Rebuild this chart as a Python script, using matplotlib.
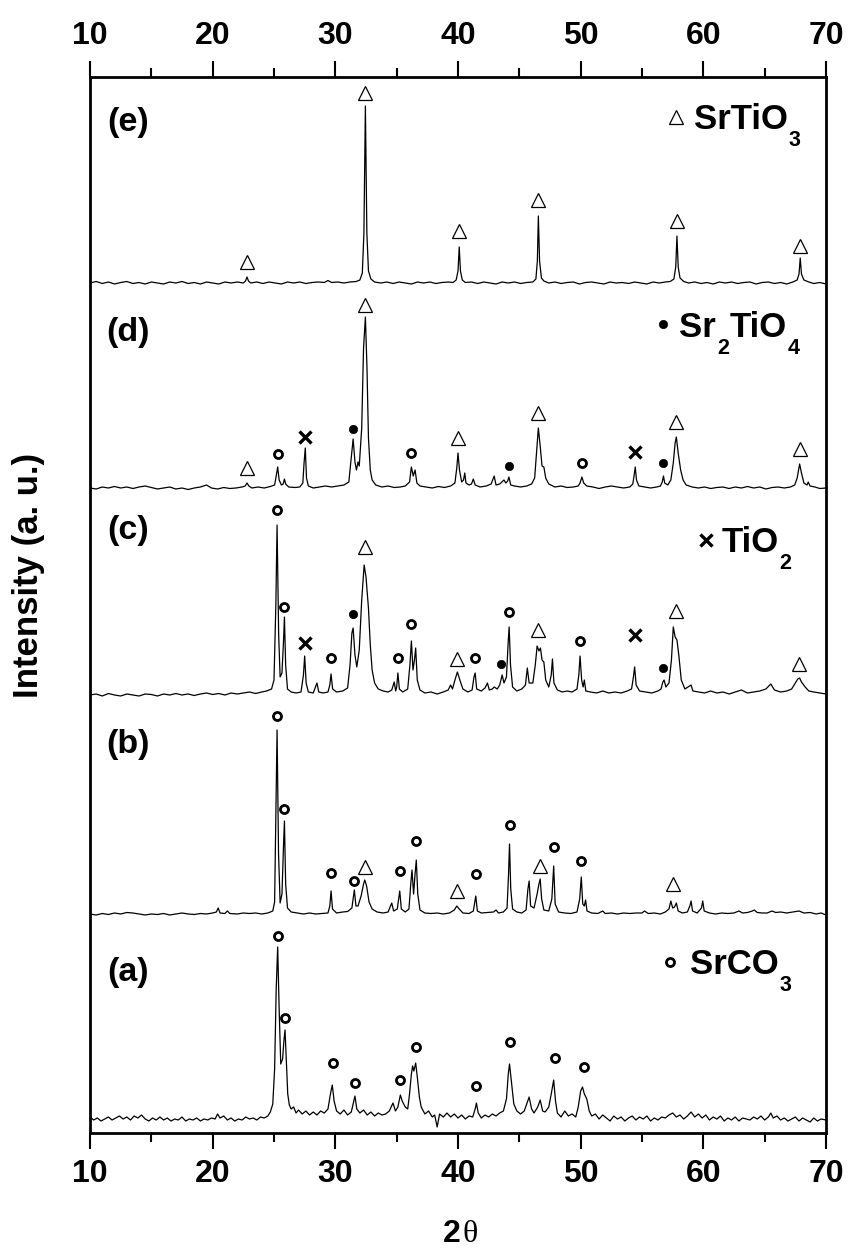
import matplotlib
matplotlib.use("Agg")
import matplotlib.pyplot as plt
import numpy as np

# 2theta range
x_min, x_max = 10, 70

# XRD traces: (2theta, intensity above the trace baseline)
trace_a = [(10.0,2),(10.3,-1),(10.6,1),(10.9,-2),(11.2,0),(11.5,2),(11.8,-1),(12.1,1),(12.4,3),(12.7,0),
           (13.0,2),(13.3,-1),(13.6,3),(13.9,1),(14.2,4),(14.5,0),(14.8,-2),(15.1,1),(15.4,-1),(15.7,2),
           (16.0,-1),(16.3,1),(16.6,-2),(16.9,0),(17.2,-1),(17.5,2),(17.8,-2),(18.1,0),(18.4,-1),(18.7,1),
           (19.0,-2),(19.3,0),(19.6,-1),(19.9,1),(20.2,0),(20.4,5),(20.6,1),(20.9,3),(21.2,-1),(21.5,1),
           (21.8,-2),(22.1,0),(22.4,-1),(22.7,2),(23.0,0),(23.3,1),(23.6,-1),(23.9,2),(24.2,1),(24.5,3),
           (24.7,7),(24.9,15),(25.05,50),(25.18,130),(25.3,172),(25.42,110),(25.55,55),(25.7,60),(25.82,80),
           (25.9,89),(26.0,60),(26.12,25),(26.25,14),(26.4,10),(26.6,12),(26.8,6),(27.0,9),(27.3,5),(27.6,8),
           (27.9,4),(28.2,7),(28.5,4),(28.8,8),(29.1,6),(29.4,10),(29.6,25),(29.75,34),(29.9,18),(30.1,8),
           (30.4,5),(30.7,9),(31.0,4),(31.3,7),(31.5,18),(31.6,23),(31.75,10),(32.0,6),(32.3,9),(32.6,4),
           (32.9,7),(33.2,3),(33.5,6),(33.8,4),(34.1,5),(34.4,8),(34.7,16),(34.9,8),(35.1,12),(35.3,24),
           (35.45,18),(35.7,12),(35.9,10),(36.05,25),(36.2,45),(36.3,53),(36.4,48),(36.55,56),(36.7,40),
           (36.85,22),(37.0,12),(37.3,5),(37.6,8),(37.9,2),(38.1,4),(38.3,-8),(38.5,5),(38.8,2),(39.1,6),
           (39.4,2),(39.7,5),(40.0,1),(40.3,4),(40.6,0),(40.9,3),(41.2,2),(41.4,10),(41.5,16),(41.65,6),
           (41.9,1),(42.2,4),(42.5,2),(42.8,5),(43.1,3),(43.4,6),(43.7,8),(43.95,20),(44.1,45),(44.2,55),
           (44.35,38),(44.55,15),(44.8,8),(45.1,5),(45.4,8),(45.6,15),(45.8,22),(46.0,10),(46.2,6),(46.5,12),
           (46.7,19),(46.9,8),(47.1,7),(47.4,12),(47.6,25),(47.8,39),(47.95,18),(48.1,6),(48.4,2),(48.7,8),
           (49.0,3),(49.3,5),(49.6,2),(49.8,12),(50.0,28),(50.15,32),(50.3,25),(50.5,20),(50.7,8),(50.9,3),
           (51.2,5),(51.5,0),(51.8,4),(52.1,1),(52.4,-2),(52.7,3),(53.0,0),(53.3,2),(53.6,-2),(53.9,1),
           (54.2,3),(54.5,-1),(54.8,2),(55.1,0),(55.4,3),(55.7,-2),(56.0,1),(56.3,-1),(56.6,2),(56.9,1),
           (57.2,4),(57.5,6),(57.8,2),(58.1,4),(58.4,0),(58.7,3),(59.0,7),(59.3,2),(59.6,5),(59.9,1),
           (60.2,4),(60.5,-1),(60.8,2),(61.1,0),(61.4,3),(61.7,-2),(62.0,1),(62.3,-1),(62.6,2),(62.9,-2),
           (63.2,1),(63.5,0),(63.8,-1),(64.1,2),(64.4,0),(64.7,3),(65.0,-1),(65.3,2),(65.5,6),(65.7,1),
           (66.0,3),(66.3,-1),(66.6,1),(66.9,-2),(67.2,0),(67.5,2),(67.8,-2),(68.1,1),(68.4,-1),(68.7,-3),
           (69.0,1),(69.3,-2),(69.6,0),(70.0,-1)]

trace_b = [(10.0,0),(10.5,-1),(11.0,0.5),(11.5,-0.5),(12.0,1),(12.5,0),(13.0,1.5),(13.5,1),(14.0,0),(14.5,-1),
           (15.0,0),(15.5,-0.5),(16.0,0.5),(16.5,-1),(17.0,0),(17.5,1),(18.0,0),(18.5,-0.5),(19.0,0.5),(19.5,0),
           (20.0,1),(20.3,2),(20.45,6),(20.6,1),(21.0,0.5),(21.2,3),(21.4,0.5),(22.0,0),(22.5,1),(23.0,0.5),
           (23.5,1),(24.0,0),(24.5,1),(24.9,3),(25.05,12),(25.15,100),(25.25,184),(25.37,60),(25.5,11),
           (25.65,20),(25.78,70),(25.85,93),(25.95,30),(26.1,6),(26.4,2),(26.9,1),(27.4,0),(27.9,1),(28.4,0),
           (28.9,0.5),(29.4,1),(29.55,8),(29.65,23),(29.77,5),(30.1,1),(30.6,2),(31.0,2.5),(31.35,6),(31.55,24),
           (31.68,8),(31.85,8),(32.1,18),(32.3,30),(32.4,34),(32.55,28),(32.75,12),(33.0,5),(33.4,2),(33.9,1),
           (34.3,2),(34.6,11),(34.75,3),(35.05,5),(35.25,23),(35.38,5),(35.7,2),(36.0,5),(36.15,30),(36.25,44),
           (36.38,20),(36.5,40),(36.6,54),(36.72,20),(36.9,4),(37.3,1),(37.8,0.5),(38.3,1),(38.8,0),(39.3,1),
           (39.7,4),(39.9,8),(40.1,5),(40.4,1),(40.9,0.5),(41.25,3),(41.45,18),(41.58,3),(41.9,1),(42.4,1.5),
           (42.9,2),(43.1,4),(43.3,1),(43.7,2),(44.0,6),(44.12,40),(44.2,70),(44.3,25),(44.45,5),(44.8,2),
           (45.2,1),(45.55,4),(45.7,25),(45.8,33),(45.92,8),(46.2,6),(46.45,20),(46.6,30),(46.7,35),(46.82,15),
           (47.0,4),(47.4,3),(47.65,15),(47.8,48),(47.92,10),(48.2,2),(48.7,1),(49.2,0.5),(49.7,2),(49.92,15),
           (50.05,37),(50.17,10),(50.3,8),(50.4,14),(50.52,3),(50.9,1),(51.4,0.5),(51.8,3),(52.0,0.5),(52.5,1),
           (53.0,0),(53.5,1),(54.0,0.5),(54.5,1),(55.0,1),(55.2,3),(55.5,0.5),(56.0,1),(56.5,0),(56.9,2),
           (57.2,5),(57.35,13),(57.5,6),(57.65,7),(57.8,11),(57.95,3),(58.3,1),(58.7,2),(58.9,8),(59.0,13),
           (59.12,3),(59.5,1),(59.85,6),(59.95,13),(60.07,3),(60.5,1),(61.0,0),(61.5,1),(62.0,0.5),(62.5,1),
           (62.9,3),(63.2,1),(63.6,1.5),(64.0,3),(64.15,4),(64.4,1.5),(64.8,1),(65.2,1),(65.6,3),(65.9,1.5),
           (66.3,2),(66.8,1),(67.3,2),(67.8,3),(68.2,1),(68.7,1.5),(69.2,0),(69.6,1),(70.0,-1)]

trace_c = [(10.0,0),(10.5,1),(11.0,-1),(11.5,1.5),(12.0,0),(12.5,-1),(13.0,1),(13.5,0),(14.0,-1),(14.5,1),
           (15.0,0.5),(15.5,-1),(16.0,1),(16.5,0),(17.0,1.5),(17.5,0),(18.0,1),(18.5,-0.5),(19.0,1),(19.5,2),
           (20.0,0.5),(20.5,1.5),(21.0,0),(21.5,2),(22.0,1),(22.5,2),(23.0,3),(23.5,1.5),(24.0,3),(24.4,4),
           (24.8,6),(25.0,15),(25.15,90),(25.25,170),(25.38,60),(25.5,18),(25.65,22),(25.78,55),(25.85,78),
           (25.95,30),(26.1,6),(26.4,3),(26.8,2),(27.2,3),(27.4,20),(27.5,39),(27.62,12),(27.8,3),(28.2,2),
           (28.5,12),(28.65,3),(29.0,2),(29.4,3),(29.55,10),(29.65,21),(29.78,6),(30.1,3),(30.6,4),(31.0,7),
           (31.2,30),(31.35,62),(31.45,67),(31.6,40),(31.75,28),(31.95,45),(32.15,95),(32.35,130),(32.5,118),
           (32.7,87),(32.85,50),(33.0,25),(33.2,12),(33.5,6),(33.9,4),(34.3,3),(34.6,5),(34.8,13),(34.92,4),
           (35.0,8),(35.1,22),(35.22,6),(35.5,3),(35.9,6),(36.08,30),(36.2,54),(36.33,25),(36.45,35),
           (36.55,47),(36.68,15),(36.9,5),(37.3,2),(37.8,3),(38.3,1),(38.8,3),(39.2,5),(39.4,10),(39.55,6),
           (39.75,15),(39.95,23),(40.15,15),(40.4,6),(40.8,3),(41.15,5),(41.3,18),(41.4,22),(41.52,6),
           (41.9,4),(42.2,7),(42.4,12),(42.55,5),(42.8,6),(42.95,8),(43.2,6),(43.4,10),(43.6,20),(43.75,12),
           (43.95,18),(44.1,55),(44.17,68),(44.28,30),(44.45,8),(44.8,4),(45.2,6),(45.5,10),(45.65,27),
           (45.8,12),(46.1,12),(46.3,30),(46.45,49),(46.6,44),(46.72,47),(46.85,35),(47.0,33),(47.15,15),
           (47.4,8),(47.6,20),(47.7,36),(47.82,12),(48.1,5),(48.5,3),(48.9,4),(49.3,3),(49.7,6),(49.85,20),
           (49.95,39),(50.08,15),(50.2,8),(50.3,15),(50.42,4),(50.8,3),(51.3,2),(51.8,4),(52.3,2),(52.8,3),
           (53.3,2),(53.8,4),(54.15,6),(54.3,18),(54.4,28),(54.52,10),(54.8,4),(55.3,3),(55.8,2),(56.3,4),
           (56.55,6),(56.7,13),(56.8,15),(56.95,8),(57.2,12),(57.4,35),(57.55,68),(57.7,58),(57.85,55),
           (58.0,40),(58.2,15),(58.5,6),(59.0,10),(59.15,4),(59.6,3),(60.1,2),(60.6,4),(61.1,2),(61.6,3),
           (62.1,1),(62.6,3),(63.1,5),(63.6,2),(64.1,3),(64.6,4),(65.1,6),(65.5,11),(65.8,5),(66.3,3),
           (66.8,4),(67.2,6),(67.5,12),(67.7,16),(67.85,17),(68.0,13),(68.3,8),(68.6,4),(69.0,3),(69.5,2),
           (70.0,1)]

trace_d = [(10.0,0),(10.5,-1),(11.0,1),(11.5,0),(12.0,1.5),(12.5,0),(13.0,1),(13.5,-0.5),(14.0,1),(14.5,2),
           (15.0,0.5),(15.5,-1),(16.0,0),(16.5,1),(17.0,-1),(17.5,0),(18.0,-1.5),(18.5,0),(19.0,1),(19.5,3),
           (19.9,0),(20.4,-1),(20.9,0.5),(21.4,-0.5),(21.9,0),(22.4,1),(22.65,2),(22.8,5),(22.95,2),(23.2,0),
           (23.7,1),(24.2,0),(24.7,1.5),(25.05,3),(25.18,12),(25.3,21),(25.42,8),(25.6,3),(25.75,4),(25.85,9),
           (25.95,4),(26.2,1),(26.7,0.5),(27.1,1),(27.35,5),(27.45,25),(27.55,40),(27.65,10),(27.8,2),(28.2,0),
           (28.7,1),(29.2,2),(29.7,1),(30.2,2),(30.7,3),(31.1,6),(31.3,30),(31.45,49),(31.6,26),(31.72,18),
           (31.85,26),(31.95,22),(32.15,60),(32.3,140),(32.45,171),(32.58,120),(32.7,50),(32.85,18),(33.0,8),
           (33.3,3),(33.8,1),(34.3,2),(34.8,0.5),(35.3,1),(35.7,2),(36.05,6),(36.2,21),(36.35,12),(36.5,18),
           (36.65,5),(36.9,2),(37.4,1),(37.9,0),(38.4,1.5),(38.9,0.5),(39.4,2),(39.75,5),(39.9,20),(40.0,35),
           (40.12,18),(40.3,6),(40.45,8),(40.55,15),(40.65,5),(40.9,3),(41.1,4),(41.25,9),(41.4,3),(41.8,1),
           (42.3,2),(42.7,4),(42.95,12),(43.1,3),(43.4,4),(43.75,8),(43.9,5),(44.05,7),(44.15,11),(44.3,3),
           (44.6,2),(45.1,1),(45.6,2),(46.0,4),(46.25,10),(46.4,35),(46.55,60),(46.7,42),(46.85,22),(47.0,21),
           (47.15,10),(47.4,4),(47.9,1),(48.4,2),(48.9,0.5),(49.4,1),(49.8,2),(49.95,5),(50.1,11),(50.25,5),
           (50.5,2),(51.0,1),(51.5,-0.5),(52.0,1),(52.5,2),(53.0,1),(53.5,0),(54.0,1),(54.25,4),(54.35,12),
           (54.45,21),(54.55,8),(54.75,2),(55.2,1),(55.7,0),(56.2,1),(56.5,2),(56.65,6),(56.75,12),(56.85,5),
           (57.1,3),(57.35,8),(57.55,25),(57.7,45),(57.8,51),(57.95,35),(58.15,18),(58.35,8),(58.6,3),(59.1,1),
           (59.6,0),(60.1,1),(60.6,-0.5),(61.1,0.5),(61.6,1),(62.1,-0.5),(62.6,1),(63.1,0),(63.6,1.5),(64.1,0),
           (64.6,1),(65.1,-1),(65.6,0.5),(66.1,1),(66.6,0),(67.1,1),(67.45,3),(67.65,10),(67.85,24),(68.0,15),
           (68.2,5),(68.45,3),(68.55,6),(68.7,2),(69.1,1),(69.5,-0.5),(70.0,0)]

trace_e = [(10.0,0),(10.5,1.5),(11.0,-0.5),(11.5,1),(12.0,-1),(12.5,0.5),(13.0,1.5),(13.5,-0.5),(14.0,0.5),
           (14.5,-1),(15.0,1),(15.5,0),(16.0,-1),(16.5,1),(17.0,0),(17.5,1.5),(18.0,-0.5),(18.5,0.5),(19.0,-1),
           (19.5,1),(20.0,0),(20.5,-1),(21.0,1),(21.5,0),(22.0,1),(22.5,0),(22.68,2),(22.8,6),(22.92,2),
           (23.1,0),(23.6,1),(24.1,-0.5),(24.6,1),(25.1,0),(25.6,-1),(26.1,1),(26.6,0),(27.1,1),(27.6,-0.5),
           (28.1,0.5),(28.6,1),(29.1,0.5),(29.4,2.5),(29.7,0.5),(30.2,1),(30.7,0),(31.2,1),(31.7,1.5),(32.0,3),
           (32.2,10),(32.33,50),(32.45,177),(32.57,50),(32.7,12),(32.9,4),(33.2,1),(33.7,0),(34.2,1),
           (34.7,-0.5),(35.2,1),(35.7,0),(36.2,-1),(36.7,1),(37.2,0),(37.7,1),(38.2,-0.5),(38.7,0.5),(39.2,1),
           (39.6,0.5),(39.85,3),(40.0,12),(40.1,36),(40.2,12),(40.35,3),(40.6,0.5),(41.1,1),(41.6,-0.5),
           (42.1,1),(42.6,0),(43.1,-1),(43.6,1),(44.1,0),(44.6,1),(45.1,-0.5),(45.6,0.5),(46.1,1),(46.35,4),
           (46.47,22),(46.55,67),(46.65,22),(46.8,5),(47.0,2),(47.4,0),(47.9,1),(48.4,-0.5),(48.9,0.5),
           (49.4,1),(49.9,-1),(50.4,0.5),(50.9,1),(51.4,0),(51.9,-1),(52.4,1),(52.9,0),(53.4,0.5),(53.9,-0.5),
           (54.4,1),(54.9,0),(55.4,-1),(55.9,1),(56.4,0),(56.9,1),(57.3,1.5),(57.6,4),(57.75,16),(57.85,47),
           (57.95,16),(58.1,5),(58.4,1.5),(58.8,0),(59.3,1),(59.8,-0.5),(60.3,0.5),(60.8,-1),(61.3,1),
           (61.8,0),(62.3,1),(62.8,-0.5),(63.3,0.5),(63.8,1),(64.3,-1),(64.8,0.5),(65.3,1),(65.8,-0.5),
           (66.3,0.5),(66.8,-1),(67.3,1),(67.65,3),(67.8,9),(67.9,25),(68.0,9),(68.2,3),(68.6,1),(69.0,-0.5),
           (69.5,0.5),(70.0,-1)]

# phase marks per trace: (phase, 2theta, height above baseline)
# T = SrTiO3, S = Sr2TiO4, X = TiO2, C = SrCO3
marks_a = [('C',25.3,183),('C',25.9,101),('C',29.8,56),('C',31.6,36),('C',35.3,39),('C',36.55,72),
           ('C',41.5,33),('C',44.2,77),('C',47.9,61),('C',50.3,52)]
marks_b = [('C',25.25,198),('C',25.85,105),('C',29.65,41),('C',31.55,33),('T',32.4,47),('C',35.25,43),
           ('C',36.6,73),('T',39.9,23),('C',41.45,40),('C',44.2,89),('T',46.7,48),('C',47.85,67),
           ('C',50.05,53),('T',57.5,30)]
marks_c = [('C',25.25,185),('C',25.85,88),('X',27.5,52),('C',29.65,37),('S',31.4,81),('T',32.4,148),
           ('C',35.1,37),('C',36.2,71),('T',39.95,36),('C',41.35,37),('S',43.5,31),('C',44.15,83),
           ('T',46.5,65),('C',49.95,54),('X',54.4,60),('S',56.75,27),('T',57.75,84),('T',67.8,31)]
marks_d = [('T',22.8,20),('C',25.3,34),('X',27.5,51),('S',31.45,59),('T',32.45,183),('C',36.2,35),
           ('T',40.0,50),('S',44.15,22),('T',46.55,75),('C',50.1,25),('X',54.45,36),('S',56.75,25),
           ('T',57.8,66),('T',67.9,39)]
marks_e = [('T',22.8,21),('T',32.45,190),('T',40.1,52),('T',46.55,83),('T',57.85,62),('T',67.9,37)]

traces = [trace_a, trace_b, trace_c, trace_d, trace_e]
marks = [marks_a, marks_b, marks_c, marks_d, marks_e]
panel_names = ['(a)', '(b)', '(c)', '(d)', '(e)']
phase_keys = ['C', 'X', 'S', 'T']
# formula pieces: (text, is_subscript)
phase_formulas = {'C': [('SrCO', False), ('3', True)],
                  'X': [('TiO', False), ('2', True)],
                  'S': [('Sr', False), ('2', True), ('TiO', False), ('4', True)],
                  'T': [('SrTiO', False), ('3', True)]}

# layout (not data)
offsets = [14, 219, 438, 645, 850]
panel_label_y = [160, 388, 603, 801, 1011]
legend_pos = {'T': (57.75, 1016, 59.2, 1004),
              'S': (56.7, 809, 58.05, 796),
              'X': (60.2, 593, 61.5, 581),
              'C': (57.3, 171, 58.9, 159)}
marker_style = {
    'T': dict(marker='^', ms=10, mfc='white', mec='black', mew=0.9),
    'S': dict(marker='o', ms=6, mfc='black', mec='black', mew=0.5),
    'X': dict(marker='x', ms=9, mec='black', mew=2.4),
    'C': dict(marker='o', ms=5.8, mfc='white', mec='black', mew=2.0),
}

plt.rcParams['font.family'] = ['Liberation Sans', 'DejaVu Sans']
plt.rcParams['font.weight'] = 'bold'

fig = plt.figure(figsize=(8.51, 12.49), dpi=100)
ax = fig.add_axes([90/851, 1-1133/1249, 736/851, 1056/1249])

for tr, mk, off, name, ly in zip(traces, marks, offsets, panel_names, panel_label_y):
    x, y = zip(*tr)
    ax.plot(x, np.array(y) + off, color='black', lw=0.9)
    for key, mx, my in mk:
        ax.plot(mx, my + off, ls='none', **marker_style[key])
    ax.text(13.1, ly, name, ha='center', va='center', fontsize=24.5, fontweight='bold')


def draw_formula(ax, x, y, pieces, size=25, sub_size=15.5):
    first = ax.text(x, y, pieces[0][0], ha='left', va='baseline', fontsize=size, fontweight='bold')
    prev = first
    for txt, is_sub in pieces[1:]:
        if is_sub:
            prev = ax.annotate(txt, xy=(1, 0), xycoords=(prev, first), xytext=(0.5, 4.5),
                               textcoords='offset points', ha='left', va='top',
                               fontsize=sub_size, fontweight='bold')
        else:
            prev = ax.annotate(txt, xy=(1, 0), xycoords=(prev, first), xytext=(0.5, 0),
                               textcoords='offset points', ha='left', va='bottom',
                               fontsize=size, fontweight='bold')


for key in phase_keys:
    mx, my, tx, ty = legend_pos[key]
    ax.plot(mx, my, ls='none', **marker_style[key])
    draw_formula(ax, tx, ty, phase_formulas[key])

ax.set_xlim(x_min, x_max)
ax.set_ylim(0, 1056)
ax.set_yticks([])
ax.set_xticks(np.arange(10, 71, 10))
ax.set_xticks(np.arange(15, 70, 10), minor=True)
ax.tick_params(axis='x', which='both', direction='out', top=True, bottom=True,
               labeltop=True, labelbottom=True, width=1.5, labelsize=23, pad=7)
ax.tick_params(axis='x', which='major', length=11.5)
ax.tick_params(axis='x', which='minor', length=6.5)
for lbl in ax.get_xticklabels():
    lbl.set_fontweight('bold')
for sp in ax.spines.values():
    sp.set_linewidth(2)

# x label: bold "2" with a serif theta
fig.text(461/851, 1-1234/1249, '2', ha='right', va='center', fontsize=23, fontweight='bold')
fig.text(462/851, 1-1234/1249, 'θ', ha='left', va='center', fontsize=23, fontweight='normal',
         family=['Liberation Serif', 'DejaVu Serif'])
fig.text(29/851, 1-575/1249, 'Intensity (a. u.)', ha='center', va='center', rotation=90,
         fontsize=25, fontweight='bold')

fig.savefig('out.png', dpi=100)
